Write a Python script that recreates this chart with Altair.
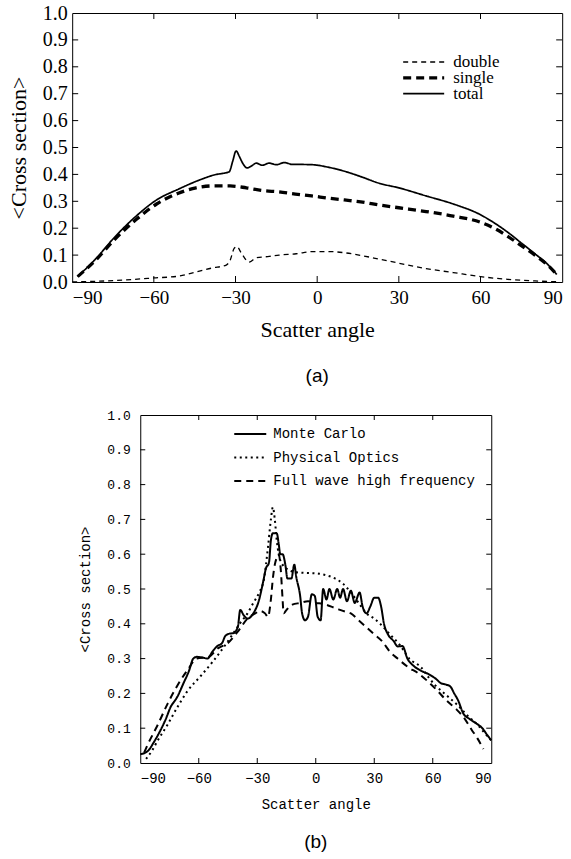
import altair as alt
import pandas as pd

# ---------------- panel (a) data ----------------
top_series = ["double", "single", "total"]

x_double = [-90, -80, -70, -60, -50.7, -44.5, -38.6, -33.4, -32, -30.5, -29.5, -28, -25, -22.4,
            -17.6, -14, -7.7, -1.8, 4.4, 10.6, 16.5, 22.8, 30, 40, 50, 60, 70, 80, 88]
y_double = [0.0, 0.003, 0.008, 0.015, 0.022, 0.037, 0.052, 0.063, 0.08, 0.125, 0.132, 0.11, 0.074, 0.09,
            0.095, 0.1, 0.105, 0.113, 0.113, 0.108, 0.098, 0.085, 0.07, 0.05, 0.035, 0.02, 0.01, 0.004, 0.001]

x_single = [-88, -81, -75, -66.5, -59, -51, -44.5, -38.6, -32, -26, -20, -14, -8, -2, 4, 10, 16, 23,
            30, 40, 50, 60, 65, 70, 75, 80, 85, 88]
y_single = [0.02, 0.085, 0.152, 0.232, 0.29, 0.33, 0.35, 0.357, 0.357, 0.35, 0.34, 0.335, 0.327, 0.32,
            0.312, 0.305, 0.298, 0.286, 0.276, 0.262, 0.245, 0.222, 0.2, 0.17, 0.135, 0.1, 0.06, 0.028]

x_total = [-88, -81, -75, -66.5, -59, -51, -43, -37, -34, -32.3, -31, -29.8, -28.5, -27.6, -25.7, -24,
           -22.4, -20.2, -17.6, -15, -12.1, -9, -6.6, -1.8, 4.4, 10.6, 16.5, 22.8, 30, 40, 50, 60, 65,
           70, 75, 80, 85, 88]
y_total = [0.02, 0.09, 0.16, 0.245, 0.305, 0.345, 0.38, 0.40, 0.405, 0.41, 0.45, 0.487, 0.465, 0.446,
           0.424, 0.432, 0.442, 0.434, 0.442, 0.436, 0.444, 0.437, 0.437, 0.436, 0.426, 0.41, 0.39, 0.367,
           0.35, 0.32, 0.29, 0.25, 0.22, 0.185, 0.145, 0.105, 0.062, 0.028]

# ---------------- panel (b) data ----------------
bot_series = ["Monte Carlo", "Physical Optics", "Full wave high frequency"]

x_mc = [-90, -86, -83, -80, -77, -74.5, -71, -68, -65, -62.8, -61, -58, -55.5, -53, -50.5, -48, -46.4,
        -44, -42.3, -40, -38.7, -37, -35, -32, -29, -27, -25.5, -24, -23, -22, -20, -19, -18.2, -17,
        -15.6, -14.5, -12.5, -11, -10, -8, -7, -5.5, -4, -2, -0.5, 1, 2.5, 3.8, 5.5, 7, 9, 11, 12.5,
        14, 16, 18, 20, 22.5, 24, 26, 28, 30, 32, 33.5, 35, 37, 40, 42, 44.5, 47, 50, 54, 58, 62, 64,
        67, 69, 71, 73, 75.6, 79, 82, 85.4, 88, 90]
y_mc = [0.025, 0.035, 0.06, 0.09, 0.125, 0.16, 0.19, 0.227, 0.265, 0.30, 0.305, 0.303, 0.30, 0.32,
        0.336, 0.345, 0.365, 0.372, 0.373, 0.39, 0.44, 0.425, 0.415, 0.43, 0.47, 0.52, 0.56, 0.575,
        0.64, 0.66, 0.66, 0.63, 0.60, 0.60, 0.57, 0.53, 0.53, 0.57, 0.535, 0.48, 0.43, 0.41, 0.42,
        0.485, 0.48, 0.42, 0.41, 0.50, 0.47, 0.50, 0.47, 0.50, 0.475, 0.50, 0.465, 0.495, 0.46, 0.49,
        0.45, 0.43, 0.45, 0.475, 0.475, 0.45, 0.40, 0.37, 0.35, 0.335, 0.336, 0.30, 0.28, 0.265,
        0.255, 0.24, 0.23, 0.225, 0.22, 0.20, 0.18, 0.143, 0.126, 0.115, 0.10, 0.08, 0.065]

x_po = [-87, -84, -81, -76, -71, -66, -59, -53, -45, -39, -35, -32, -29, -26.5, -24.5, -23, -22, -21,
        -20, -19, -17, -14, -10, -5, 0, 5, 10, 14, 18, 22, 26, 30, 33, 38, 43, 48, 54, 58, 61, 66, 70,
        73, 78, 83, 86, 90]
y_po = [0.012, 0.035, 0.065, 0.11, 0.16, 0.205, 0.25, 0.29, 0.35, 0.40, 0.43, 0.46, 0.49, 0.53, 0.62,
        0.70, 0.735, 0.70, 0.64, 0.60, 0.57, 0.555, 0.548, 0.546, 0.545, 0.54, 0.53, 0.515, 0.49, 0.46,
        0.43, 0.415, 0.40, 0.37, 0.34, 0.30, 0.275, 0.245, 0.225, 0.2, 0.18, 0.165, 0.135, 0.11, 0.09,
        0.065]

x_fw = [-88, -86, -81, -76, -70.5, -66, -61, -55, -50, -45, -39, -35, -31, -28.5, -26, -24.5, -23, -22,
        -21, -20, -19, -18, -17, -16.5, -15, -12, -8, -4, 0, 4, 10, 15, 18, 22, 26, 30, 34, 38, 42, 48,
        52, 57, 62, 67, 72, 76, 80, 83, 86]
y_fw = [0.03, 0.055, 0.11, 0.17, 0.227, 0.265, 0.30, 0.305, 0.33, 0.345, 0.385, 0.415, 0.43, 0.437,
        0.43, 0.42, 0.47, 0.53, 0.57, 0.59, 0.60, 0.56, 0.47, 0.43, 0.44, 0.455, 0.46, 0.465, 0.46,
        0.457, 0.445, 0.435, 0.43, 0.41, 0.39, 0.37, 0.35, 0.32, 0.30, 0.273, 0.26, 0.237, 0.21, 0.18,
        0.155, 0.13, 0.095, 0.07, 0.04]

x_ticks = [-60, -30, 0, 30, 60]
y_ticks = [0.1, 0.2, 0.3, 0.4, 0.5, 0.6, 0.7, 0.8, 0.9]
x_labels = [-90, -60, -30, 0, 30, 60, 90]
y_labels = [0.0, 0.1, 0.2, 0.3, 0.4, 0.5, 0.6, 0.7, 0.8, 0.9, 1.0]


def frame(names, xs, ys):
    parts = [pd.DataFrame({"series": n, "angle": x, "value": y}) for n, x, y in zip(names, xs, ys)]
    return pd.concat(parts, ignore_index=True)


top_df = frame(top_series, [x_double, x_single, x_total], [y_double, y_single, y_total])
bot_df = frame(bot_series, [x_mc, x_po, x_fw], [y_mc, y_po, y_fw])

serif = "Liberation Serif"
mono = "Liberation Mono"
sans = "Liberation Sans"

W1, H1 = 490, 269
W2, H2 = 351, 348


def ticks(W, H, L):
    xdf = pd.DataFrame({"angle": x_ticks})
    ydf = pd.DataFrame({"value": y_ticks})
    rule = dict(color="black", strokeWidth=1)
    bx = alt.Chart(xdf).mark_rule(**rule).encode(
        x=alt.X("angle:Q", axis=None), y=alt.value(H), y2=alt.value(H - L))
    tx = alt.Chart(xdf).mark_rule(**rule).encode(
        x=alt.X("angle:Q", axis=None), y=alt.value(0), y2=alt.value(L))
    ly = alt.Chart(ydf).mark_rule(**rule).encode(
        y=alt.Y("value:Q", axis=None), x=alt.value(0), x2=alt.value(L))
    ry = alt.Chart(ydf).mark_rule(**rule).encode(
        y=alt.Y("value:Q", axis=None), x=alt.value(W), x2=alt.value(W - L))
    return [bx, tx, ly, ry]


leg_top = alt.Legend(title=None, orient="none", legendX=329, legendY=43, symbolType="stroke",
                     symbolSize=1681, symbolStrokeColor="black", labelFont=serif, labelFontSize=17,
                     labelColor="black", clipHeight=12, rowPadding=-1.2, labelOffset=7, padding=0,
                     labelLimit=400)

top_lines = alt.Chart(top_df).mark_line(color="black", interpolate="monotone").encode(
    x=alt.X("angle:Q", scale=alt.Scale(domain=[-90, 90], nice=False, zero=False),
            axis=alt.Axis(values=x_labels, format="d", title="Scatter angle", labelFont=serif,
                          labelFontSize=19, titleFont=serif, titleFontSize=22, titleFontWeight="normal",
                          labelPadding=6, titlePadding=12, labelColor="black", titleColor="black")),
    y=alt.Y("value:Q", scale=alt.Scale(domain=[0, 1], nice=False),
            axis=alt.Axis(values=y_labels, format=".1f", title="<Cross section>", labelFont=serif,
                          labelFontSize=20, titleFont=serif, titleFontSize=22, titleFontWeight="normal",
                          labelPadding=5, titlePadding=12, labelColor="black", titleColor="black")),
    strokeDash=alt.StrokeDash("series:N", scale=alt.Scale(domain=top_series, range=[[5, 4], [8, 5], [1, 0]]),
                              legend=leg_top),
    strokeWidth=alt.StrokeWidth("series:N", scale=alt.Scale(type="ordinal", domain=top_series,
                                                            range=[1.3, 3.3, 1.7]),
                                legend=leg_top),
)

top = alt.layer(top_lines, *ticks(W1, H1, 6)).resolve_axis(
    x="independent", y="independent"
).properties(
    width=W1, height=H1,
    title=alt.TitleParams("(a)", orient="bottom", font=sans, fontSize=19, fontWeight="normal",
                          frame="group", anchor="middle", offset=27, color="black"))

leg_bot = alt.Legend(title=None, orient="none", legendX=93, legendY=9, symbolType="stroke",
                     symbolSize=1024, symbolStrokeColor="black", labelFont=mono, labelFontSize=14,
                     labelColor="black", clipHeight=20, rowPadding=3.5, labelOffset=6, padding=0,
                     labelLimit=400)

bot_lines = alt.Chart(bot_df).mark_line(color="black", interpolate="monotone").encode(
    x=alt.X("angle:Q", scale=alt.Scale(domain=[-90, 90], nice=False, zero=False),
            axis=alt.Axis(values=x_labels, format="d", title="Scatter angle", labelFont=mono,
                          labelFontSize=14, titleFont=mono, titleFontSize=14, titleFontWeight="normal",
                          labelPadding=8, titlePadding=12, labelColor="black", titleColor="black")),
    y=alt.Y("value:Q", scale=alt.Scale(domain=[0, 1], nice=False),
            axis=alt.Axis(values=y_labels, format=".1f", title="<Cross section>", labelFont=mono,
                          labelFontSize=13, titleFont=mono, titleFontSize=14, titleFontWeight="normal",
                          labelPadding=10, titlePadding=14, labelColor="black", titleColor="black")),
    strokeDash=alt.StrokeDash("series:N", scale=alt.Scale(domain=bot_series, range=[[1, 0], [2, 3.5], [7, 5]]),
                              legend=leg_bot),
    strokeWidth=alt.StrokeWidth("series:N", scale=alt.Scale(type="ordinal", domain=bot_series,
                                                            range=[2, 2, 2]),
                                legend=leg_bot),
)

bottom = alt.layer(bot_lines, *ticks(W2, H2, 5)).resolve_axis(
    x="independent", y="independent"
).properties(
    width=W2, height=H2,
    title=alt.TitleParams("(b)", orient="bottom", font=sans, fontSize=19, fontWeight="normal",
                          frame="group", anchor="middle", offset=22, color="black"))

chart = alt.vconcat(top, bottom, spacing=21, center=True).resolve_scale(
    strokeDash="independent", strokeWidth="independent", x="independent", y="independent"
).resolve_legend(strokeDash="independent", strokeWidth="independent").properties(
    padding={"left": 6, "top": 2, "right": 0, "bottom": 0}
).configure_view(stroke="black", strokeWidth=1).configure_axis(grid=False, domain=False, ticks=False)

chart.save("out.html", embed_options={"renderer": "svg", "actions": False})
